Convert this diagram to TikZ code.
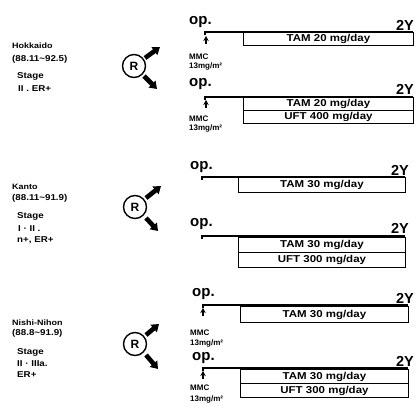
\documentclass[tikz,border=0pt]{standalone}
\usepackage{fontspec}
\newfontfamily\lab[FakeStretch=1.15]{Liberation Sans}
\newfontfamily\opfont{Liberation Sans}
\usetikzlibrary{arrows.meta}
\begin{document}
\begin{tikzpicture}[x=1pt,y=-1pt,
 txt/.style={inner sep=0pt, anchor=west, font=\lab\bfseries\fontsize{8.5}{9}\selectfont},
 nm/.style={inner sep=0pt, anchor=west, font=\lab\bfseries\fontsize{7.8}{8}\selectfont},
 mmc/.style={inner sep=0pt, anchor=base west, font=\opfont\bfseries\fontsize{8}{8}\selectfont},
 opl/.style={inner sep=0pt, anchor=base west, font=\opfont\bfseries\fontsize{15}{15}\selectfont},
 yl/.style={inner sep=0pt, anchor=base east, font=\opfont\bfseries\fontsize{14.5}{15}\selectfont},
 tbox/.style={draw, line width=0.9pt, inner sep=0pt, anchor=north west, font=\lab\bfseries\fontsize{10}{10}\selectfont},
 tl/.style={line width=1.3pt},
 rc/.style={circle, draw, line width=1.4pt, minimum size=23pt, inner sep=0pt, font=\opfont\bfseries\fontsize{12}{12}\selectfont},
 rarr/.style={line width=4.6pt, -{Triangle[length=7pt,width=9.5pt]}},
 mup/.style={line width=1.6pt, -{Stealth[length=5pt,width=5.5pt]}},
]
\useasboundingbox (0,0) rectangle (417,415);

% ===== Panel 1: Hokkaido =====
\node[nm] (h1) at (12,45.5) {Hokkaido};
\node[txt] (h2) at (12,59) {(88.11\textasciitilde92.5)};
\node[txt] (h3) at (17,76.5) {Stage};
\node[txt] (h4) at (18,89) {II . ER+};
\node[rc] (r1) at (134,66) {R};
\coordinate (r1us) at (145,58);
\coordinate (r1u) at (160,47);
\coordinate (r1ds) at (144,76);
\coordinate (r1d) at (157,89);
\draw[rarr] (r1us) -- (r1u);
\draw[rarr] (r1ds) -- (r1d);

\node[opl] (op1) at (189,24) {op.};
\node[yl] (y1) at (414,30) {2Y};
\coordinate (s1) at (205,32);
\coordinate (e1) at (413,32);
\draw[tl] ([yshift=-3pt]s1) -- (s1) -- (e1);
\node[tbox, minimum width=170pt, minimum height=13pt] (b1) at (243,32) {TAM 20 mg/day};
\coordinate (a1b) at (206,44);
\coordinate (a1t) at (206,36);
\draw[mup] (a1b) -- (a1t);
\node[mmc] (m1) at (189,59) {MMC};
\node[mmc] (m1b) at (189,68) {13mg/m²};

\node[opl] (op2) at (189,86) {op.};
\node[yl] (y2) at (414,94) {2Y};
\coordinate (s2) at (205,97);
\coordinate (e2) at (413,97);
\draw[tl] ([yshift=-3pt]s2) -- (s2) -- (e2);
\node[tbox, minimum width=170pt, minimum height=13pt] (b2) at (243,97) {TAM 20 mg/day};
\node[tbox, minimum width=170pt, minimum height=13pt] (b3) at (243,110) {UFT 400 mg/day};
\coordinate (a2b) at (206,108);
\coordinate (a2t) at (206,100);
\draw[mup] (a2b) -- (a2t);
\node[mmc] (m2) at (189,121) {MMC};
\node[mmc] (m2b) at (189,130) {13mg/m²};

% ===== Panel 2: Kanto =====
\node[nm] (k1) at (12,186.5) {Kanto};
\node[txt] (k2) at (12,198) {(88.11\textasciitilde91.9)};
\node[txt] (k3) at (17,216.5) {Stage};
\node[txt] (k4) at (18,228.5) {I · II .};
\node[txt] (k5) at (17,240) {n+, ER+};
\node[rc] (r2) at (135,207) {R};
\coordinate (r2us) at (146,198);
\coordinate (r2u) at (161,186);
\coordinate (r2ds) at (146,218);
\coordinate (r2d) at (158,231);
\draw[rarr] (r2us) -- (r2u);
\draw[rarr] (r2ds) -- (r2d);

\node[opl] (op3) at (190,169) {op.};
\node[yl] (y3) at (409,175) {2Y};
\coordinate (s3) at (202,177);
\coordinate (e3) at (405,177);
\draw[tl] ([yshift=-3pt]s3) -- (s3) -- (e3);
\node[tbox, minimum width=167pt, minimum height=15pt] (b4) at (238,177) {TAM 30 mg/day};

\node[opl] (op4) at (190,226) {op.};
\node[yl] (y4) at (409,233) {2Y};
\coordinate (s4) at (202,236);
\coordinate (e4) at (405,236);
\draw[tl] ([yshift=-3pt]s4) -- (s4) -- (e4);
\node[tbox, minimum width=167pt, minimum height=15pt] (b5) at (238,237) {TAM 30 mg/day};
\node[tbox, minimum width=167pt, minimum height=15pt] (b6) at (238,252) {UFT 300 mg/day};

% ===== Panel 3: Nishi-Nihon =====
\node[nm] (n1) at (12,322.5) {Nishi-Nihon};
\node[txt] (n2) at (12,333.5) {(88.8\textasciitilde91.9)};
\node[txt] (n3) at (17,352.5) {Stage};
\node[txt] (n4) at (17,363.5) {II · IIIa.};
\node[txt] (n5) at (17,374.5) {ER+};
\node[rc] (r3) at (135,344) {R};
\coordinate (r3us) at (146,335);
\coordinate (r3u) at (159,324);
\coordinate (r3ds) at (146,355);
\coordinate (r3d) at (158,369);
\draw[rarr] (r3us) -- (r3u);
\draw[rarr] (r3ds) -- (r3d);

\node[opl] (op5) at (192,296) {op.};
\node[yl] (y5) at (414,303) {2Y};
\coordinate (s5) at (203,305);
\coordinate (e5) at (408,305);
\draw[tl] ([yshift=-3pt]s5) -- (s5) -- (e5);
\node[tbox, minimum width=168pt, minimum height=16pt] (b7) at (240,306) {TAM 30 mg/day};
\coordinate (a3b) at (203,316);
\coordinate (a3t) at (203,308);
\draw[mup] (a3b) -- (a3t);
\node[mmc] (m3) at (190,335) {MMC};
\node[mmc] (m3b) at (190,345) {13mg/m²};

\node[opl] (op6) at (192,360) {op.};
\node[yl] (y6) at (414,366) {2Y};
\coordinate (s6) at (203,368);
\coordinate (e6) at (408,368);
\draw[tl] ([yshift=-3pt]s6) -- (s6) -- (e6);
\node[tbox, minimum width=168pt, minimum height=14pt] (b8) at (240,369) {TAM 30 mg/day};
\node[tbox, minimum width=168pt, minimum height=14pt] (b9) at (240,383) {UFT 300 mg/day};
\coordinate (a4b) at (203,379);
\coordinate (a4t) at (203,371);
\draw[mup] (a4b) -- (a4t);
\node[mmc] (m4) at (190,390) {MMC};
\node[mmc] (m4b) at (190,401) {13mg/m²};
\end{tikzpicture}
\end{document}
